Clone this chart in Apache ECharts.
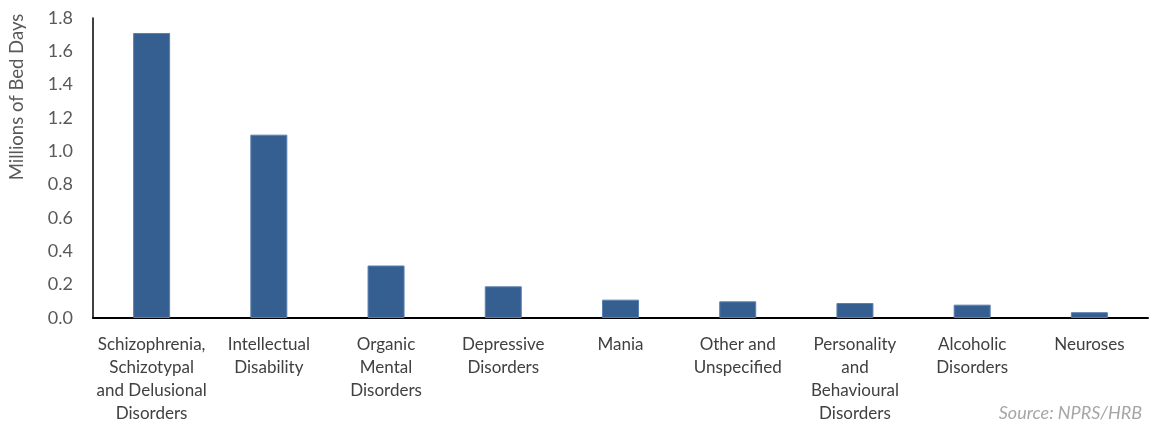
<!DOCTYPE html>
<html>
<head>
<meta charset="utf-8">
<script src="https://cdn.jsdelivr.net/npm/echarts@6/dist/echarts.min.js"></script>
<style>html,body{margin:0;padding:0;background:#fff;}#c{width:1163px;height:425px;}</style>
</head>
<body>
<div id="c"></div>
<script>
const categories = [
  "Schizophrenia,\nSchizotypal\nand Delusional\nDisorders",
  "Intellectual\nDisability",
  "Organic\nMental\nDisorders",
  "Depressive\nDisorders",
  "Mania",
  "Other and\nUnspecified",
  "Personality\nand\nBehavioural\nDisorders",
  "Alcoholic\nDisorders",
  "Neuroses"
];
const bedDays = [1.71, 1.10, 0.315, 0.19, 0.11, 0.10, 0.09, 0.08, 0.035];
const yTicks = { min: 0, max: 1.8, interval: 0.2 };
const yTitle = "Millions of Bed Days";
const sourceText = "Source: NPRS/HRB";

const font = "Lato, 'Open Sans', sans-serif";
const chart = echarts.init(document.getElementById('c'), null, { renderer: 'canvas' });
chart.setOption({
  animation: false,
  backgroundColor: '#ffffff',
  grid: { left: 93, right: 15, top: 18, bottom: 103, containLabel: false },
  xAxis: {
    type: 'category',
    data: categories,
    axisLine: { lineStyle: { color: '#000', width: 2 } },
    axisTick: { show: false },
    axisLabel: {
      interval: 0, color: '#404040', fontFamily: font, fontSize: 17,
      lineHeight: 23, margin: 15, align: 'center'
    }
  },
  yAxis: {
    type: 'value',
    min: yTicks.min, max: yTicks.max, interval: yTicks.interval,
    axisLine: { show: true, lineStyle: { color: '#000', width: 1.5 } },
    axisTick: { show: false },
    splitLine: { show: false },
    axisLabel: {
      color: '#595959', fontFamily: font, fontSize: 18, margin: 20,
      formatter: v => v.toFixed(1)
    }
  },
  series: [{
    type: 'bar',
    data: bedDays,
    barWidth: 37,
    itemStyle: { color: '#365F91', borderColor: '#5B7FAE', borderWidth: 1 }
  }],
  graphic: [
    {
      type: 'text', x: 17, y: 97, rotation: Math.PI / 2,
      style: { text: yTitle, fill: '#595959', font: "18.5px " + font, align: 'center', verticalAlign: 'middle' }
    },
    {
      type: 'text', right: 21, top: 404,
      style: { text: sourceText, fill: '#A6A6A6', font: "italic 18px " + font }
    }
  ]
});
</script>
</body>
</html>
